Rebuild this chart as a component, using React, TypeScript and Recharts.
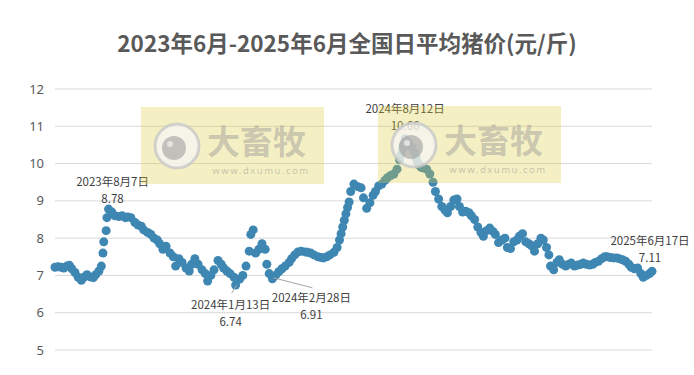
import { CartesianGrid, ReferenceDot, Scatter, ScatterChart, XAxis, YAxis } from 'recharts';

// days since 2023-06-01, and the daily average pig price (元/斤) on that day
const dayOffsets = [
  0, 4, 8, 11, 15, 18, 21, 25, 29, 33,
  36, 40, 44, 48, 51, 55, 58, 60, 61, 64,
  65, 67, 71, 75, 80, 84, 88, 91, 95, 100,
  104, 108, 111, 116, 120, 124, 128, 131, 135, 139,
  144, 148, 151, 155, 159, 164, 168, 171, 175, 179,
  184, 188, 191, 195, 199, 204, 208, 211, 215, 219,
  224, 226, 231, 235, 239, 243, 245, 248, 251, 255,
  259, 263, 265, 268, 272, 276, 280, 284, 288, 293,
  296, 300, 304, 308, 313, 316, 320, 324, 329, 333,
  336, 340, 344, 349, 353, 356, 358, 360, 362, 364,
  366, 368, 370, 374, 379, 383, 386, 390, 394, 398,
  401, 405, 409, 413, 416, 420, 424, 428, 431, 433,
  435, 436, 438, 443, 446, 450, 452, 454, 456, 458,
  461, 465, 469, 473, 476, 480, 484, 488, 491, 495,
  499, 503, 506, 510, 514, 518, 521, 525, 529, 533,
  536, 540, 544, 548, 551, 555, 559, 563, 566, 570,
  574, 578, 581, 585, 589, 593, 596, 600, 604, 608,
  611, 615, 618, 620, 624, 628, 631, 635, 639, 643,
  646, 650, 654, 658, 661, 665, 669, 673, 676, 680,
  684, 688, 691, 695, 699, 703, 706, 710, 714, 718,
  721, 725, 729, 733, 736, 740, 744, 747,
];

const prices = [
  7.22, 7.23, 7.22, 7.2, 7.25, 7.27, 7.18, 7.08, 6.95, 6.87,
  6.95, 7.02, 6.96, 6.94, 7.02, 7.12, 7.25, 7.6, 7.9, 8.2,
  8.55, 8.78, 8.7, 8.6, 8.58, 8.6, 8.55, 8.57, 8.55, 8.42,
  8.35, 8.32, 8.22, 8.15, 8.1, 8.0, 7.95, 7.85, 7.7, 7.78,
  7.6, 7.5, 7.25, 7.45, 7.35, 7.2, 7.12, 7.3, 7.45, 7.3,
  7.15, 7.05, 6.85, 7.0, 7.15, 7.4, 7.3, 7.2, 7.12, 7.05,
  6.95, 6.74, 6.9, 7.0, 7.25, 7.65, 8.1, 8.22, 7.6, 7.7,
  7.85, 7.7, 7.3, 7.05, 6.91, 7.0, 7.1, 7.18, 7.25, 7.35,
  7.45, 7.55, 7.63, 7.65, 7.63, 7.62, 7.6, 7.55, 7.5, 7.48,
  7.47, 7.5, 7.55, 7.62, 7.75, 7.95, 8.12, 8.3, 8.48, 8.65,
  8.82, 8.97, 9.25, 9.45, 9.38, 9.35, 9.08, 8.8, 8.95, 9.15,
  9.25, 9.4, 9.45, 9.55, 9.62, 9.68, 9.72, 9.85, 10.1, 10.25,
  10.4, 10.52, 10.66, 10.55, 10.45, 10.3, 10.15, 10.02, 9.95, 9.9,
  9.88, 9.85, 9.72, 9.5, 9.25, 9.05, 8.85, 8.75, 8.68, 8.85,
  9.02, 9.05, 8.85, 8.7, 8.72, 8.68, 8.6, 8.5, 8.3, 8.15,
  8.05, 8.2, 8.27, 8.18, 8.1, 7.88, 7.95, 8.0, 7.75, 7.72,
  7.9, 7.95, 8.05, 8.12, 7.9, 7.85, 7.8, 7.65, 7.85, 8.0,
  7.95, 7.75, 7.55, 7.25, 7.15, 7.35, 7.42, 7.3, 7.25, 7.3,
  7.33, 7.25, 7.28, 7.3, 7.33, 7.3, 7.28, 7.3, 7.35, 7.38,
  7.45, 7.5, 7.5, 7.48, 7.47, 7.47, 7.45, 7.42, 7.38, 7.3,
  7.22, 7.18, 7.2, 7.05, 6.95, 7.0, 7.05, 7.11,
];

const yTicks = [5, 6, 7, 8, 9, 10, 11, 12];

const noteDays = [67, 226, 272, 438, 747];
const noteDates = ['2023年8月7日', '2024年1月13日', '2024年2月28日', '2024年8月12日', '2025年6月17日'];
const noteValues = [8.78, 6.74, 6.91, 10.66, 7.11];

// label placement relative to the marked point (px)
const noteLayout = [
  { dx: 4, dy: -28, leader: null },
  { dx: -5, dy: 19, leader: [1, 0, -4, 8] },
  { dx: 39, dy: 18, leader: [1, -1, 40, 9] },
  { dx: 0, dy: -31, leader: null },
  { dx: -2, dy: -31, leader: null },
];

const data = dayOffsets.map((d, i) => ({ day: d, price: prices[i] }));

const BLUE = '#3F87B3';
const FONT = '"Noto Sans CJK SC", "Noto Sans", sans-serif';

function Note({ cx, cy, idx }: { cx?: number; cy?: number; idx: number }) {
  if (cx == null || cy == null) return null;
  const l = noteLayout[idx];
  return (
    <g>
      {l.leader && (
        <line
          x1={cx + l.leader[0]}
          y1={cy + l.leader[1]}
          x2={cx + l.leader[2]}
          y2={cy + l.leader[3]}
          stroke="#A6A6A6"
          strokeWidth={1}
        />
      )}
      <text
        x={cx + l.dx}
        y={cy + l.dy}
        textAnchor="middle"
        dominantBaseline="central"
        fontSize={11.5}
        fontFamily={FONT}
        fill="#404040"
      >
        {noteDates[idx]}
      </text>
      <text
        x={cx + l.dx}
        y={cy + l.dy + 17}
        textAnchor="middle"
        dominantBaseline="central"
        fontSize={11.5}
        fontFamily={FONT}
        fill="#404040"
      >
        {noteValues[idx].toFixed(2)}
      </text>
    </g>
  );
}

function Watermark({ left, top }: { left: number; top: number }) {
  return (
    <div
      style={{
        position: 'absolute',
        left,
        top,
        width: 183,
        height: 77,
        background: 'rgba(222,205,55,0.3)',
        pointerEvents: 'none',
      }}
    >
      <svg width={183} height={77} style={{ position: 'absolute', left: 0, top: 0 }}>
        <circle cx={36} cy={39} r={22} fill="rgba(245,245,245,0.75)" stroke="rgba(200,200,200,0.8)" strokeWidth={3} />
        <circle cx={33} cy={41} r={12} fill="rgba(150,150,150,0.55)" />
        <circle cx={29} cy={37} r={3} fill="rgba(235,235,235,0.8)" />
        <text x={66} y={33} fontSize={33} fontWeight={700} fontFamily={FONT} fill="rgba(150,150,150,0.45)" dominantBaseline="central">
          大畜牧
        </text>
        <text x={120} y={67} fontSize={9.5} fontFamily="Noto Sans, sans-serif" fill="rgba(150,150,150,0.5)" textAnchor="middle" letterSpacing={1.5}>
          www.dxumu.com
        </text>
      </svg>
    </div>
  );
}

export default function App() {
  return (
    <div style={{ position: 'absolute', left: 0, top: 0, width: 694, height: 375, background: '#fff', fontFamily: FONT }}>
      <div
        style={{
          position: 'absolute',
          left: 0,
          top: 28,
          width: 694,
          textAlign: 'center',
          fontSize: 22.5,
          fontWeight: 700,
          color: '#595959',
          lineHeight: '28px',
        }}
      >
        2023年6月-2025年6月全国日平均猪价(元/斤)
      </div>
      <div style={{ position: 'absolute', left: 0, top: 0 }}>
        <ScatterChart width={694} height={375} margin={{ top: 89, right: 42, bottom: 25, left: 0 }}>
          <CartesianGrid vertical={false} stroke="#D9D9D9" />
          <XAxis type="number" dataKey="day" domain={[0, 747]} hide />
          <YAxis
            type="number"
            dataKey="price"
            domain={[5, 12]}
            ticks={yTicks}
            width={55}
            axisLine={false}
            tickLine={false}
            tickSize={6}
            tickMargin={5}
            tick={{ fill: '#595959', fontSize: 13, fontFamily: '"Noto Sans", sans-serif' }}
          />
          <Scatter
            data={data}
            isAnimationActive={false}
            shape={(p: any) => <circle cx={p.cx} cy={p.cy} r={4.5} fill={BLUE} />}
          />
          {noteDays.map((d, i) => (
            <ReferenceDot
              key={d}
              x={d}
              y={noteValues[i]}
              r={1}
              shape={(p: any) => <Note cx={p.cx} cy={p.cy} idx={i} />}
            />
          ))}
        </ScatterChart>
      </div>
      <Watermark left={141} top={107} />
      <Watermark left={378} top={106} />
    </div>
  );
}
